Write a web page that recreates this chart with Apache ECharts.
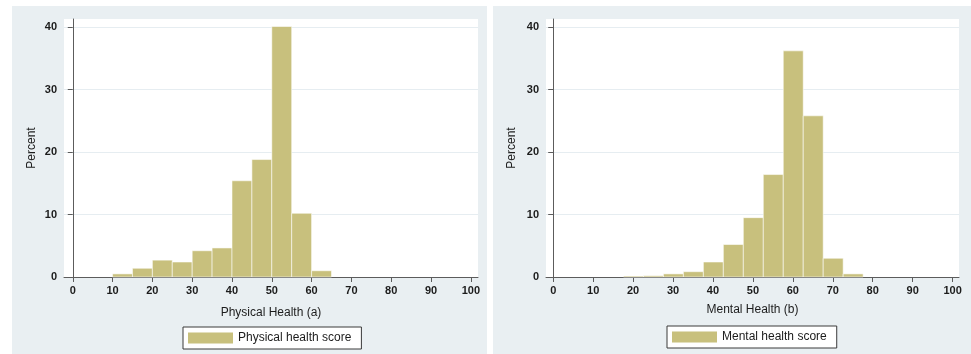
<!DOCTYPE html>
<html>
<head>
<meta charset="utf-8">
<script src="https://cdn.jsdelivr.net/npm/echarts@6/dist/echarts.min.js"></script>
<style>
  html, body { margin: 0; padding: 0; background: #ffffff; }
  #chart { width: 971px; height: 354px; }
</style>
</head>
<body>
<div id="chart"></div>
<script>
// Histogram bins: lower edge, upper edge and percent of respondents
const physLower = [10, 15, 20, 25, 30, 35, 40, 45, 50, 55, 60];
const physUpper = [15, 20, 25, 30, 35, 40, 45, 50, 55, 60, 65];
const physPercent = [0.5, 1.4, 2.7, 2.4, 4.2, 4.65, 15.4, 18.8, 40.1, 10.2, 1.0];

const mentLower = [17.6, 22.6, 27.6, 32.6, 37.6, 42.6, 47.6, 52.6, 57.6, 62.6, 67.6, 72.6];
const mentUpper = [22.6, 27.6, 32.6, 37.6, 42.6, 47.6, 52.6, 57.6, 62.6, 67.6, 72.6, 77.6];
const mentPercent = [0.15, 0.2, 0.5, 0.85, 2.4, 5.2, 9.5, 16.4, 36.2, 25.8, 3.0, 0.5];

const xTicks = [0, 10, 20, 30, 40, 50, 60, 70, 80, 90, 100];
const yTicks = [0, 10, 20, 30, 40];

const physTitle = 'Physical Health (a)';
const mentTitle = 'Mental Health (b)';
const physName = 'Physical health score';
const mentName = 'Mental health score';

const FONT = '"Liberation Sans", Arial, Helvetica, sans-serif';
const BAR = '#c8c07d';
const TEXT = '#1c1c1c';
const AXIS = '#5c5c5c';
const PANEL = '#e9eff2';

function rows(lo, hi, v) {
  return lo.map((l, i) => [l, hi[i], v[i]]);
}

function renderBin(params, api) {
  const p0 = api.coord([api.value(0), api.value(2)]);
  const p1 = api.coord([api.value(1), 0]);
  return {
    type: 'rect',
    shape: { x: p0[0], y: p0[1], width: p1[0] - p0[0], height: p1[1] - p0[1] },
    style: { fill: BAR, stroke: 'rgba(255,255,255,0.55)', lineWidth: 1 }
  };
}

function xAxisCfg(idx, title, min, max, gap) {
  return {
    type: 'value', gridIndex: idx, min: min, max: max,
    name: title, nameLocation: 'middle', nameGap: gap,
    nameTextStyle: { fontFamily: FONT, fontSize: 12, color: TEXT },
    axisLine: { show: true, lineStyle: { color: AXIS, width: 1 } },
    axisTick: { show: true, length: 5, customValues: xTicks, lineStyle: { color: AXIS } },
    axisLabel: { customValues: xTicks, margin: 8, fontFamily: FONT, fontSize: 11, color: TEXT, fontWeight: 'bold' },
    splitLine: { show: false }
  };
}

function yAxisCfg(idx, gap) {
  return {
    type: 'value', gridIndex: idx, min: 0, max: 41.3,
    name: 'Percent', nameLocation: 'middle', nameGap: gap, nameRotate: 90,
    nameTextStyle: { fontFamily: FONT, fontSize: 12, color: TEXT },
    axisLine: { show: true, lineStyle: { color: AXIS, width: 1 } },
    axisTick: { show: true, length: 5, customValues: yTicks, lineStyle: { color: AXIS } },
    axisLabel: { customValues: yTicks, margin: 7, fontFamily: FONT, fontSize: 11, color: TEXT, fontWeight: 'bold' },
    splitLine: { show: true, lineStyle: { color: '#e6edf1', width: 1 } }
  };
}

const chart = echarts.init(document.getElementById('chart'), null, { renderer: 'canvas' });

chart.setOption({
  animation: false,
  backgroundColor: '#ffffff',
  graphic: [
    { type: 'rect', z: -10, shape: { x: 12, y: 6, width: 475, height: 348 }, style: { fill: PANEL } },
    { type: 'rect', z: -10, shape: { x: 493, y: 6, width: 478, height: 348 }, style: { fill: PANEL } }
  ],
  grid: [
    { left: 64, right: 493, top: 19, bottom: 77, show: true, backgroundColor: '#ffffff', borderWidth: 0 },
    { left: 546, right: 12, top: 19, bottom: 77, show: true, backgroundColor: '#ffffff', borderWidth: 0 }
  ],
  xAxis: [
    xAxisCfg(0, physTitle, -2.2, 101.8, 30),
    xAxisCfg(1, mentTitle, -1.8, 101.6, 27)
  ],
  yAxis: [
    yAxisCfg(0, 26),
    yAxisCfg(1, 28)
  ],
  legend: [
    {
      data: [physName], left: 183, top: 327, orient: 'horizontal',
      icon: 'rect', itemWidth: 45, itemHeight: 11, itemGap: 6,
      padding: [5, 10, 5, 5], borderColor: '#3a3a3a', borderWidth: 1, backgroundColor: '#ffffff',
      textStyle: { fontFamily: FONT, fontSize: 12, color: TEXT }, selectedMode: false
    },
    {
      data: [mentName], left: 667, top: 326, orient: 'horizontal',
      icon: 'rect', itemWidth: 45, itemHeight: 11, itemGap: 8,
      padding: [5, 10, 5, 5], borderColor: '#3a3a3a', borderWidth: 1, backgroundColor: '#ffffff',
      textStyle: { fontFamily: FONT, fontSize: 12, color: TEXT }, selectedMode: false
    }
  ],
  series: [
    {
      name: physName, type: 'custom', xAxisIndex: 0, yAxisIndex: 0,
      itemStyle: { color: BAR }, renderItem: renderBin,
      encode: { x: [0, 1], y: 2 },
      data: rows(physLower, physUpper, physPercent)
    },
    {
      name: mentName, type: 'custom', xAxisIndex: 1, yAxisIndex: 1,
      itemStyle: { color: BAR }, renderItem: renderBin,
      encode: { x: [0, 1], y: 2 },
      data: rows(mentLower, mentUpper, mentPercent)
    }
  ]
});
</script>
</body>
</html>
